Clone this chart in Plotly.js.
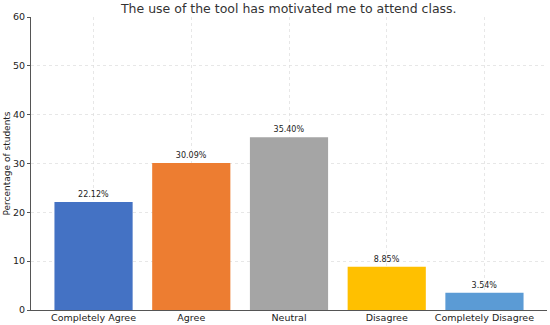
<!DOCTYPE html>
<html><head><meta charset="utf-8">
<script src="https://cdn.plot.ly/plotly-3.0.1.min.js"></script>
<style>html,body{margin:0;padding:0;background:#fff;}#chart{width:550px;height:325px;}</style>
</head><body><div id="chart"></div>
<script>
const categories = ["Completely Agree", "Agree", "Neutral", "Disagree", "Completely Disagree"];
const values = [22.12, 30.09, 35.40, 8.85, 3.54];
const labels = ["22.12%", "30.09%", "35.40%", "8.85%", "3.54%"];
const colors = ["#4472C4", "#ED7D31", "#A5A5A5", "#FFC000", "#5B9BD5"];
const yTicks = [0, 10, 20, 30, 40, 50, 60];

const trace = {
  type: 'bar', x: categories, y: values, text: labels,
  textposition: 'outside', cliponaxis: false,
  textfont: {family: 'DejaVu Sans', size: 8, color: '#222'},
  marker: {color: colors}, width: 0.8, hoverinfo: 'none'
};
const layout = {
  width: 550, height: 325,
  margin: {l: 31, r: 3, t: 17, b: 15},
  paper_bgcolor: '#fff', plot_bgcolor: '#fff',
  font: {family: 'DejaVu Sans', color: '#222'},
  title: {text: 'The use of the tool has motivated me to attend class.', font: {size: 12.5, color: '#333'}, x: 0.525, xanchor: 'center', y: 0.975, yanchor: 'middle'},
  xaxis: {range: [-0.64, 4.64], showline: true, linecolor: '#555', linewidth: 1,
    showgrid: true, gridcolor: '#ddd', griddash: 'dot', gridwidth: 0.7,
    ticks: '', ticklabelstandoff: -1, tickfont: {size: 9.5, color: '#222'}, automargin: false},
  yaxis: {range: [0, 60], tickvals: yTicks, showline: true, linecolor: '#555', linewidth: 1,
    showgrid: true, gridcolor: '#ddd', griddash: 'dot', gridwidth: 0.7, zeroline: false,
    ticks: 'outside', ticklen: 3, tickcolor: '#555', tickfont: {size: 9.5, color: '#222'},
    title: {text: 'Percentage of students', font: {size: 9, color: '#222'}, standoff: 0}, automargin: false},
  showlegend: false, bargap: 0.2
};
Plotly.newPlot('chart', [trace], layout, {displayModeBar: false, staticPlot: true});
</script></body></html>
